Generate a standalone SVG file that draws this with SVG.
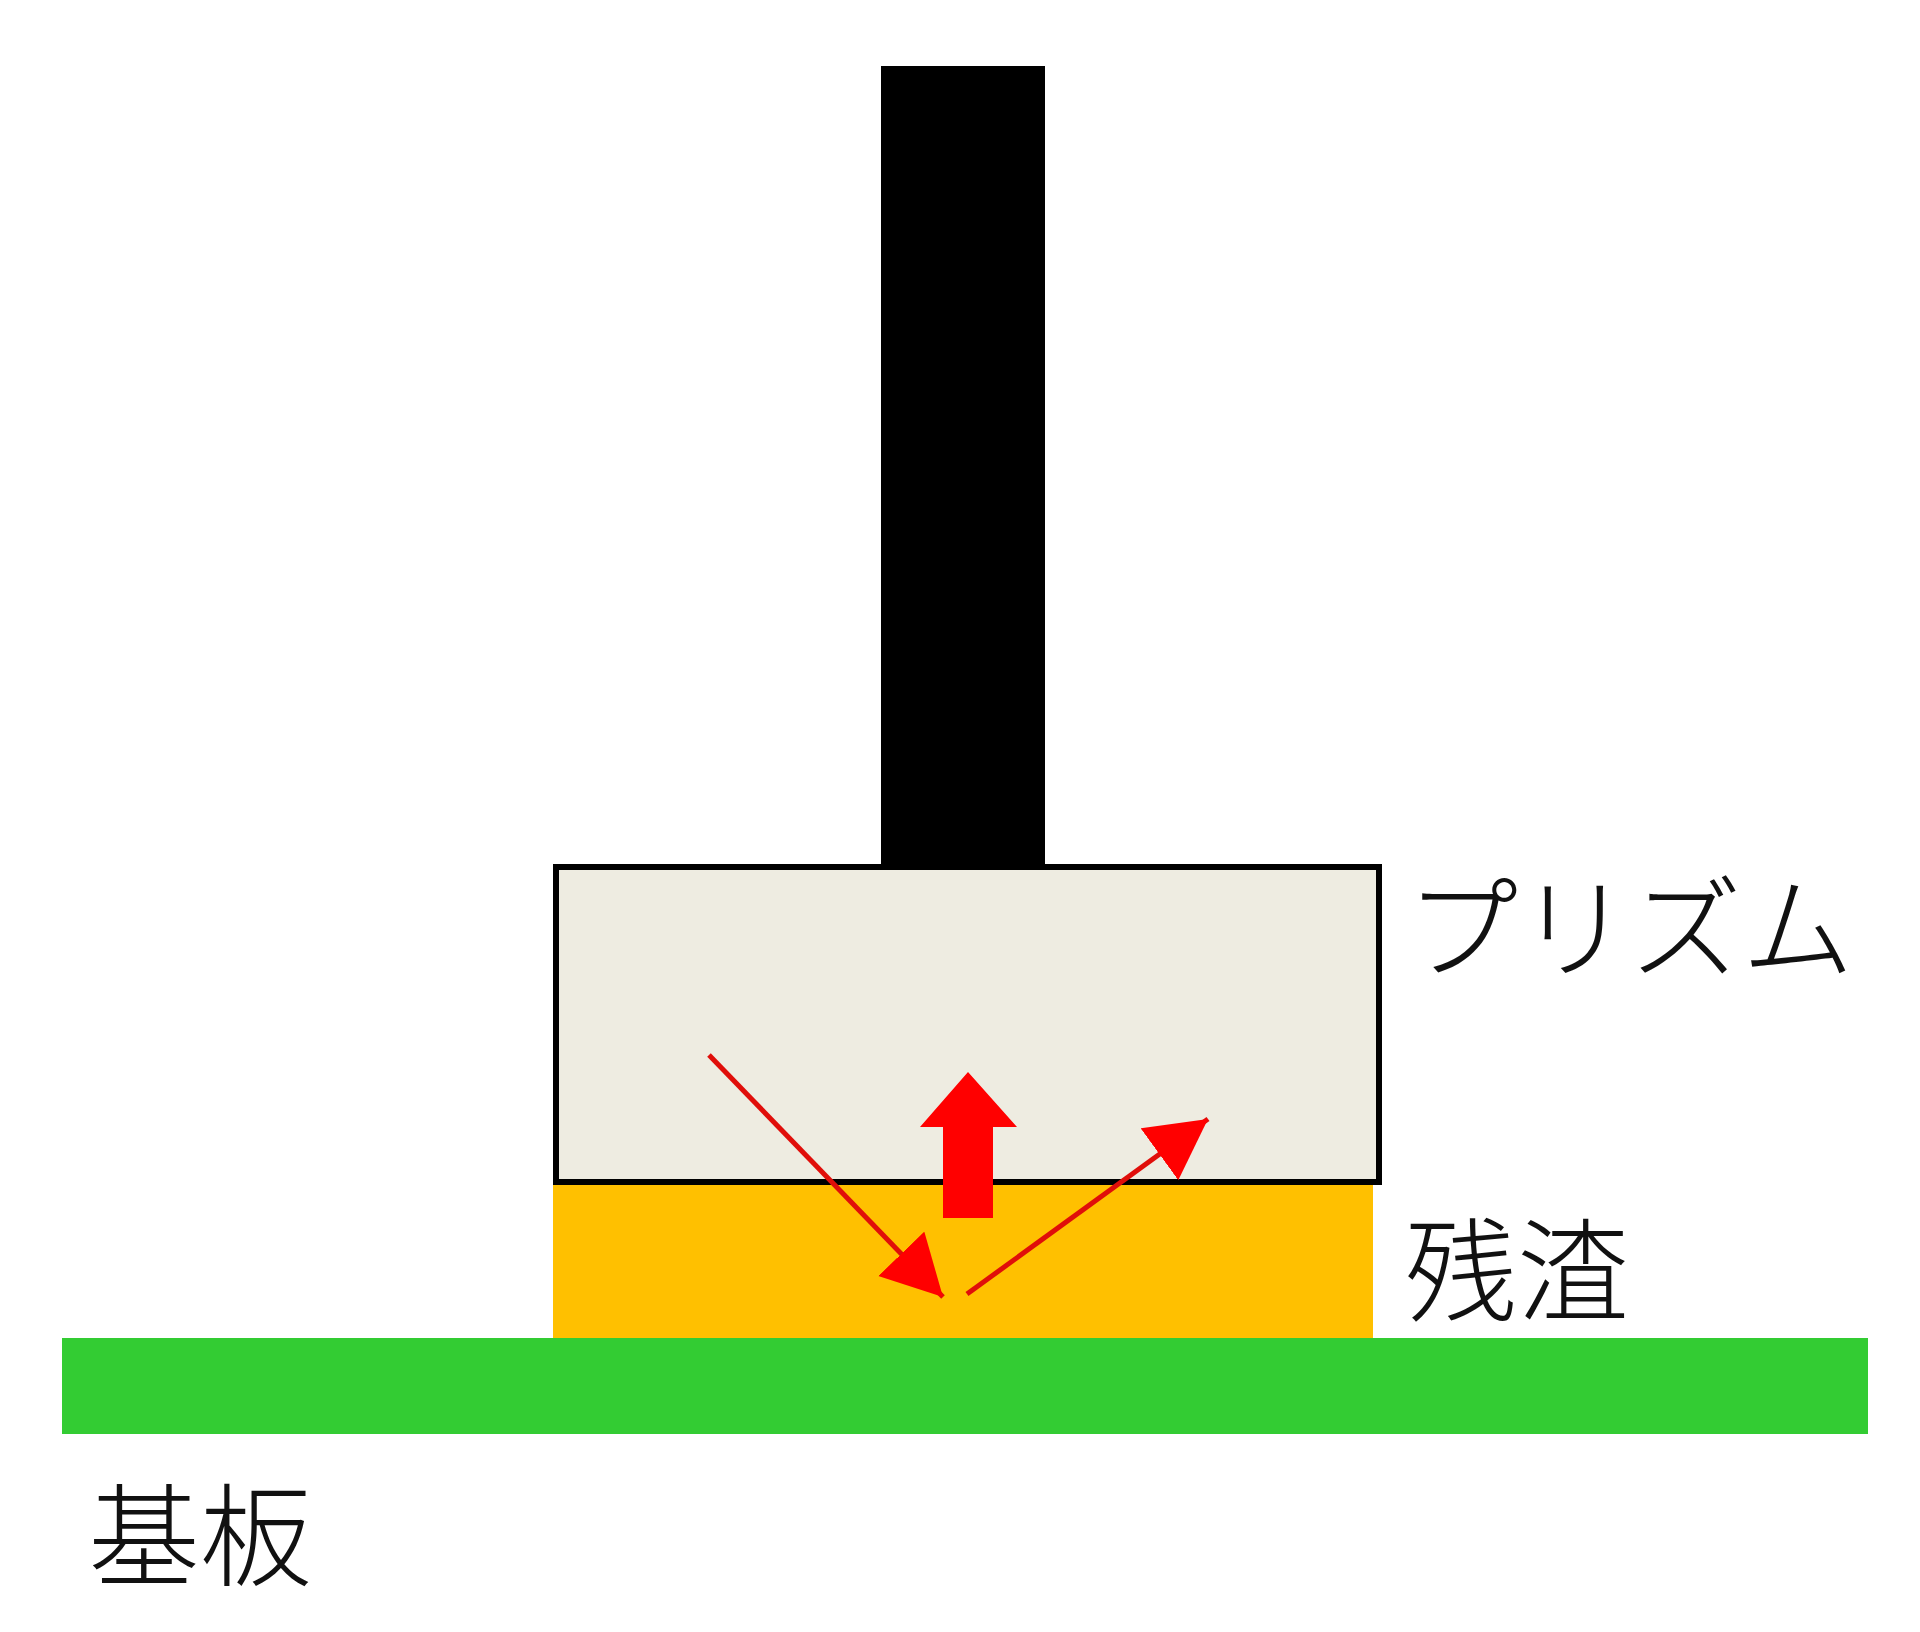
<svg xmlns="http://www.w3.org/2000/svg" width="1920" height="1632" viewBox="0 0 1920 1632">
  <style>
    .lbl { font-family: "Noto Sans CJK JP", "Noto Sans CJK SC", sans-serif; font-size: 112px; font-weight: 300; fill: #111111; }
    .ray { stroke: #E00E0A; stroke-width: 5; fill: none; }
  </style>
  <defs>
    <marker id="head" markerUnits="userSpaceOnUse" markerWidth="70" markerHeight="70" refX="60" refY="32" orient="auto">
      <path d="M0,0 L60,32 L0,64 Z" fill="#FF0000"/>
    </marker>
  </defs>
  <rect width="1920" height="1632" fill="#FFFFFF"/>
  <g id="rod">
    <rect x="881" y="66" width="164" height="802" fill="#000000"/>
  </g>
  <g id="substrate">
    <rect x="62" y="1338" width="1806" height="96" fill="#33CC33"/>
    <text class="lbl" x="88" y="1578">基板</text>
  </g>
  <g id="residue">
    <rect x="553" y="1183" width="820" height="155" fill="#FFC000"/>
    <text class="lbl" x="1405" y="1313">残渣</text>
  </g>
  <g id="prism">
    <rect x="556" y="867" width="823" height="315" fill="#EEECE1" stroke="#000000" stroke-width="6"/>
    <text class="lbl" x="1406" y="970">プリズム</text>
  </g>
  <g id="connectors">
    <line class="ray" x1="709" y1="1055" x2="943" y2="1297" marker-end="url(#head)"/>
    <line class="ray" x1="967" y1="1294" x2="1208" y2="1119" marker-end="url(#head)"/>
    <path d="M943,1218 L993,1218 L993,1127 L1017,1127 L968,1072 L920,1127 L943,1127 Z" fill="#FF0000"/>
  </g>
</svg>
